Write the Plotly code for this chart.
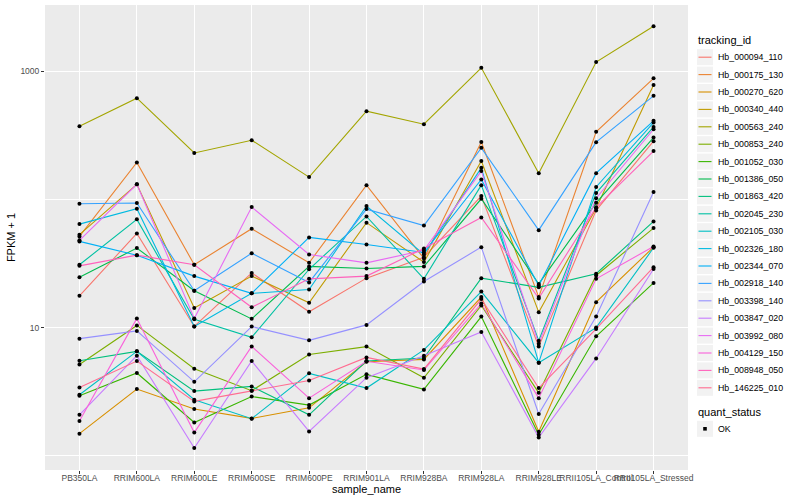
import plotly.graph_objects as go

samples = ["PB350LA", "RRIM600LA", "RRIM600LE", "RRIM600SE", "RRIM600PE",
           "RRIM901LA", "RRIM928BA", "RRIM928LA", "RRIM928LE",
           "RRII105LA_Control", "RRII105LA_Stressed"]

tracking_ids = ["Hb_000094_110", "Hb_000175_130", "Hb_000270_620", "Hb_000340_440",
                "Hb_000563_240", "Hb_000853_240", "Hb_001052_030", "Hb_001386_050",
                "Hb_001863_420", "Hb_002045_230", "Hb_002105_030", "Hb_002326_180",
                "Hb_002344_070", "Hb_002918_140", "Hb_003398_140", "Hb_003847_020",
                "Hb_003992_080", "Hb_004129_150", "Hb_008948_050", "Hb_146225_010"]

colors = ["#F8766D", "#EA8331", "#D89000", "#C09B00", "#A3A500", "#7CAE00", "#39B600",
          "#00BB4E", "#00BF7D", "#00C1A3", "#00BFC4", "#00BAE0", "#00B0F6", "#35A2FF",
          "#9590FF", "#C77CFF", "#E76BF3", "#FA62DB", "#FF62BC", "#FF6C91"]

# FPKM + 1 values, one list per tracking_id (in sample order)
Hb_000094_110 = [17.7, 54.2, 10.2, 26.7, 13.3, 24.3, 35.4, 106, 7.11, 82.0, 284]
Hb_000175_130 = [51.4, 194, 30.9, 59.0, 32.0, 129, 34.6, 280, 17.3, 336, 877]
Hb_000270_620 = [1.49, 3.32, 2.32, 1.96, 2.37, 5.42, 5.65, 17.3, 1.54, 15.8, 42.4]
Hb_000340_440 = [53.0, 131, 14.2, 25.2, 15.6, 65.8, 32.4, 199, 13.2, 85.1, 778]
Hb_000563_240 = [372, 615, 230, 289, 149, 487, 385, 1060, 160, 1175, 2235]
Hb_000853_240 = [5.16, 10.4, 4.78, 3.22, 6.18, 7.11, 4.06, 14.9, 3.10, 25.5, 59.7]
Hb_001052_030 = [2.94, 4.43, 1.82, 2.90, 2.49, 4.32, 3.30, 12.2, 1.46, 8.55, 22.3]
Hb_001386_050 = [24.7, 41.7, 19.4, 11.7, 30.0, 28.9, 30.0, 101, 21.9, 93.9, 303]
Hb_001863_420 = [5.52, 6.53, 3.20, 3.48, 2.09, 5.49, 5.80, 24.3, 20.6, 26.3, 67.3]
Hb_002045_230 = [30.9, 69.8, 11.6, 8.40, 28.5, 73.6, 24.0, 129, 7.91, 112, 367]
Hb_002105_030 = [3.00, 6.53, 2.74, 1.95, 4.40, 3.38, 6.70, 19.1, 5.33, 10.0, 41.9]
Hb_002326_180 = [64.1, 84.5, 10.2, 18.5, 19.8, 88.7, 37.2, 176, 5.33, 125, 397]
Hb_002344_070 = [47.0, 36.7, 25.2, 18.5, 50.5, 44.5, 38.5, 143, 21.3, 160, 409]
Hb_002918_140 = [92.5, 93.6, 19.4, 38.0, 22.5, 83.9, 62.4, 252, 57.5, 279, 641]
Hb_003398_140 = [8.20, 9.42, 3.78, 10.2, 7.96, 10.5, 22.9, 42.4, 2.12, 12.2, 114]
Hb_003847_020 = [2.09, 6.04, 1.15, 5.49, 1.55, 4.07, 6.04, 9.25, 1.39, 5.75, 28.6]
Hb_003992_080 = [47.9, 131, 11.8, 87.1, 37.2, 32.0, 40.0, 166, 7.50, 102, 352]
Hb_004129_150 = [1.87, 11.8, 1.52, 7.14, 2.82, 5.47, 4.67, 15.4, 2.82, 24.0, 42.9]
Hb_008948_050 = [30.3, 36.7, 30.9, 14.4, 24.0, 25.2, 41.4, 72.3, 16.9, 86.6, 238]
Hb_146225_010 = [3.42, 5.49, 2.66, 3.22, 3.87, 5.86, 4.75, 16.7, 3.38, 9.77, 29.6]

series = [Hb_000094_110, Hb_000175_130, Hb_000270_620, Hb_000340_440, Hb_000563_240,
          Hb_000853_240, Hb_001052_030, Hb_001386_050, Hb_001863_420, Hb_002045_230,
          Hb_002105_030, Hb_002326_180, Hb_002344_070, Hb_002918_140, Hb_003398_140,
          Hb_003847_020, Hb_003992_080, Hb_004129_150, Hb_008948_050, Hb_146225_010]

status_labels = ["OK"]

FONT = "Liberation Sans"
W, H = 800, 500
ML, MR, MT, MB = 45, 112, 5, 30
PW, PH = W - ML - MR, H - MT - MB


def px(x):  # page pixel -> paper x
    return (x - ML) / PW


def py(y):  # page pixel -> paper y
    return (H - MB - y) / PH


fig = go.Figure()
for name, vals, col in zip(tracking_ids, series, colors):
    fig.add_trace(go.Scatter(x=samples, y=vals, mode="lines", name=name,
                             line=dict(color=col, width=1.1), showlegend=False))

all_x, all_y = [], []
for vals in series:
    all_x += samples
    all_y += vals
fig.add_trace(go.Scatter(x=all_x, y=all_y, mode="markers", name=status_labels[0],
                         marker=dict(color="black", size=4, symbol="circle"),
                         showlegend=False))

# ---- ggplot-style legends (layout decoration) ----
shapes, annots = [], []
annots.append(dict(text="tracking_id", x=px(696), y=py(40.5), xref="paper", yref="paper",
                   xanchor="left", yanchor="middle", showarrow=False,
                   font=dict(size=11, color="black", family=FONT)))
for k, (name, col) in enumerate(zip(tracking_ids, colors)):
    cy = 57.2 + 17.4 * k
    shapes.append(dict(type="rect", xref="paper", yref="paper", x0=px(697), x1=px(713),
                       y0=py(cy + 8), y1=py(cy - 8), fillcolor="#F2F2F2", line_width=0,
                       layer="below"))
    shapes.append(dict(type="line", xref="paper", yref="paper", x0=px(698.5), x1=px(711.5),
                       y0=py(cy), y1=py(cy), line=dict(color=col, width=1.1)))
    annots.append(dict(text=name, x=px(716), y=py(cy), xref="paper", yref="paper",
                       xanchor="left", yanchor="middle", showarrow=False,
                       font=dict(size=8.8, color="black", family=FONT)))

annots.append(dict(text="quant_status", x=px(696), y=py(411.5), xref="paper", yref="paper",
                   xanchor="left", yanchor="middle", showarrow=False,
                   font=dict(size=11, color="black", family=FONT)))
for k, lab in enumerate(status_labels):
    cy = 428.8 + 17.4 * k
    shapes.append(dict(type="rect", xref="paper", yref="paper", x0=px(697), x1=px(713),
                       y0=py(cy + 8), y1=py(cy - 8), fillcolor="#F2F2F2", line_width=0,
                       layer="below"))
    shapes.append(dict(type="rect", xref="paper", yref="paper", x0=px(703.2), x1=px(706.8),
                       y0=py(cy + 1.8), y1=py(cy - 1.8), fillcolor="black", line_width=0))
    annots.append(dict(text=lab, x=px(716), y=py(cy), xref="paper", yref="paper",
                       xanchor="left", yanchor="middle", showarrow=False,
                       font=dict(size=8.8, color="black", family=FONT)))

fig.update_layout(
    width=W, height=H,
    margin=dict(l=ML, r=MR, t=MT, b=MB, autoexpand=False),
    paper_bgcolor="white", plot_bgcolor="#EBEBEB",
    font=dict(family=FONT, color="black", size=11),
    showlegend=False,
    shapes=shapes, annotations=annots,
)

fig.update_xaxes(type="category", range=[-0.6, 10.6], tickangle=0,
                 showgrid=True, gridcolor="white", gridwidth=1.1,
                 ticks="outside", ticklen=3, tickcolor="#333333", tickwidth=1,
                 ticklabelstandoff=-3,
                 tickfont=dict(size=8.5, color="#4D4D4D", family=FONT),
                 title=dict(text="sample_name", font=dict(size=11, color="black"), standoff=2),
                 zeroline=False, showline=False, automargin=False)

fig.update_yaxes(type="log", range=[-0.11, 3.515],
                 tickvals=[10, 1000], ticktext=["10", "1000"],
                 showgrid=True, gridcolor="white", gridwidth=1.1,
                 minor=dict(tickvals=[1, 100], showgrid=True, gridcolor="white",
                            gridwidth=0.5, ticks=""),
                 ticks="outside", ticklen=3, tickcolor="#333333", tickwidth=1,
                 tickfont=dict(size=8.5, color="#4D4D4D", family=FONT),
                 title=dict(text="FPKM + 1", font=dict(size=11, color="black"), standoff=2),
                 zeroline=False, showline=False, automargin=False)

fig.write_html("out.html", config={"displayModeBar": False},
               post_script="document.body.style.margin='0';document.body.style.overflow='hidden';")
